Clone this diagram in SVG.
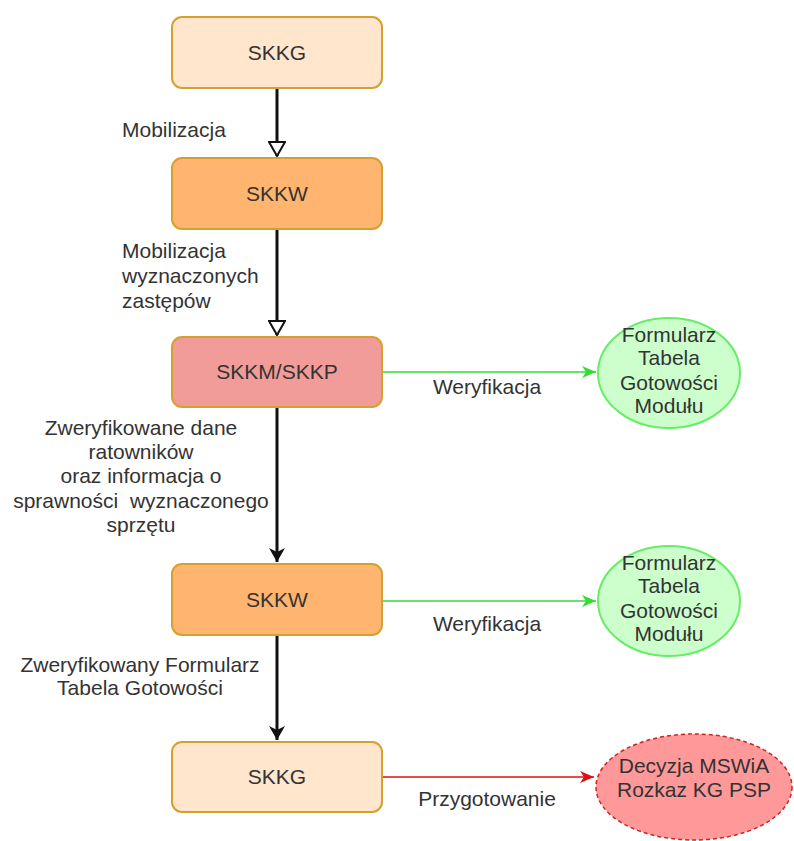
<svg xmlns="http://www.w3.org/2000/svg" width="794" height="841" viewBox="0 0 794 841">
  <style>
    text { font-family: "Liberation Sans", Arial, sans-serif; font-size: 21px; fill: #333; }
    .c { text-anchor: middle; }
    .box { stroke: #d6a030; stroke-width: 2; }
    .light { fill: #ffe6cc; }
    .orange { fill: #ffb570; }
    .pink { fill: #f19c99; }
    .green { fill: #ccffcc; stroke: #66ee66; stroke-width: 2; }
    .red { fill: #ff9999; stroke: #d42020; stroke-width: 1.5; stroke-dasharray: 4 3; }
    .flow { stroke: #111; stroke-width: 3; fill: none; }
    .gline { stroke: #33dd33; stroke-width: 1.5; fill: none; }
    .rline { stroke: #dd1111; stroke-width: 1.5; fill: none; }
  </style>
  <defs>
    <marker id="open" markerWidth="18" markerHeight="16" refX="9" refY="15" orient="0" markerUnits="userSpaceOnUse">
      <path d="M1,1 L17,1 L9,15 Z" fill="#fff" stroke="#111" stroke-width="2"/>
    </marker>
    <marker id="solid" markerWidth="18" markerHeight="16" refX="9" refY="15" orient="0" markerUnits="userSpaceOnUse">
      <path d="M1,1 L9,5 L17,1 L9,15 Z" fill="#111"/>
    </marker>
    <marker id="garrow" markerWidth="16" markerHeight="14" refX="15" refY="7" orient="auto" markerUnits="userSpaceOnUse">
      <path d="M1,1 L15,7 L1,13 L5,7 Z" fill="#33dd33"/>
    </marker>
    <marker id="rarrow" markerWidth="16" markerHeight="14" refX="15" refY="7" orient="auto" markerUnits="userSpaceOnUse">
      <path d="M1,1 L15,7 L1,13 L5,7 Z" fill="#dd1111"/>
    </marker>
  </defs>

  <rect width="794" height="841" fill="#fff"/>

  <!-- connectors and their labels -->
  <g id="connectors">
    <line class="flow" x1="277" y1="89" x2="277" y2="156" marker-end="url(#open)"/>
    <line class="flow" x1="277" y1="230" x2="277" y2="335" marker-end="url(#open)"/>
    <line class="flow" x1="277" y1="408" x2="277" y2="562" marker-end="url(#solid)"/>
    <line class="flow" x1="277" y1="636" x2="277" y2="740" marker-end="url(#solid)"/>
    <line class="gline" x1="383" y1="372" x2="596" y2="372" marker-end="url(#garrow)"/>
    <line class="gline" x1="383" y1="601" x2="596" y2="601" marker-end="url(#garrow)"/>
    <line class="rline" x1="383" y1="777" x2="594" y2="777" marker-end="url(#rarrow)"/>

    <text x="122" y="137">Mobilizacja</text>
    <text x="122" y="258">Mobilizacja</text>
    <text x="122" y="283">wyznaczonych</text>
    <text x="122" y="308">zastępów</text>
    <text class="c" x="141" y="435">Zweryfikowane dane</text>
    <text class="c" x="141" y="459">ratowników</text>
    <text class="c" x="141" y="483">oraz informacja o</text>
    <text class="c" x="141" y="508" xml:space="preserve">sprawności  wyznaczonego</text>
    <text class="c" x="141" y="532">sprzętu</text>
    <text class="c" x="140" y="672">Zweryfikowany Formularz</text>
    <text class="c" x="140" y="695">Tabela Gotowości</text>
    <text class="c" x="487" y="394">Weryfikacja</text>
    <text class="c" x="487" y="631">Weryfikacja</text>
    <text class="c" x="487" y="806">Przygotowanie</text>
  </g>

  <g id="skkg-top">
    <rect class="box light" x="172" y="17" width="210" height="71" rx="10"/>
    <text class="c" x="277" y="60">SKKG</text>
  </g>
  <g id="skkw-1">
    <rect class="box orange" x="172" y="158" width="210" height="71" rx="10"/>
    <text class="c" x="277" y="201">SKKW</text>
  </g>
  <g id="skkm-skkp">
    <rect class="box pink" x="172" y="337" width="210" height="70" rx="10"/>
    <text class="c" x="277" y="379">SKKM/SKKP</text>
  </g>
  <g id="skkw-2">
    <rect class="box orange" x="172" y="564" width="210" height="71" rx="10"/>
    <text class="c" x="277" y="607">SKKW</text>
  </g>
  <g id="skkg-bottom">
    <rect class="box light" x="172" y="742" width="210" height="70" rx="10"/>
    <text class="c" x="277" y="784">SKKG</text>
  </g>

  <g id="form-1">
    <ellipse class="green" cx="669" cy="373" rx="71" ry="55"/>
    <text class="c" x="669" y="342">Formularz</text>
    <text class="c" x="669" y="365">Tabela</text>
    <text class="c" x="669" y="390">Gotowości</text>
    <text class="c" x="669" y="413">Modułu</text>
  </g>
  <g id="form-2">
    <ellipse class="green" cx="669" cy="601" rx="71" ry="55"/>
    <text class="c" x="669" y="570">Formularz</text>
    <text class="c" x="669" y="593">Tabela</text>
    <text class="c" x="669" y="618">Gotowości</text>
    <text class="c" x="669" y="641">Modułu</text>
  </g>
  <g id="decision">
    <ellipse class="red" cx="694" cy="787" rx="98" ry="53"/>
    <text class="c" x="694" y="773">Decyzja MSWiA</text>
    <text class="c" x="694" y="797">Rozkaz KG PSP</text>
  </g>
</svg>
